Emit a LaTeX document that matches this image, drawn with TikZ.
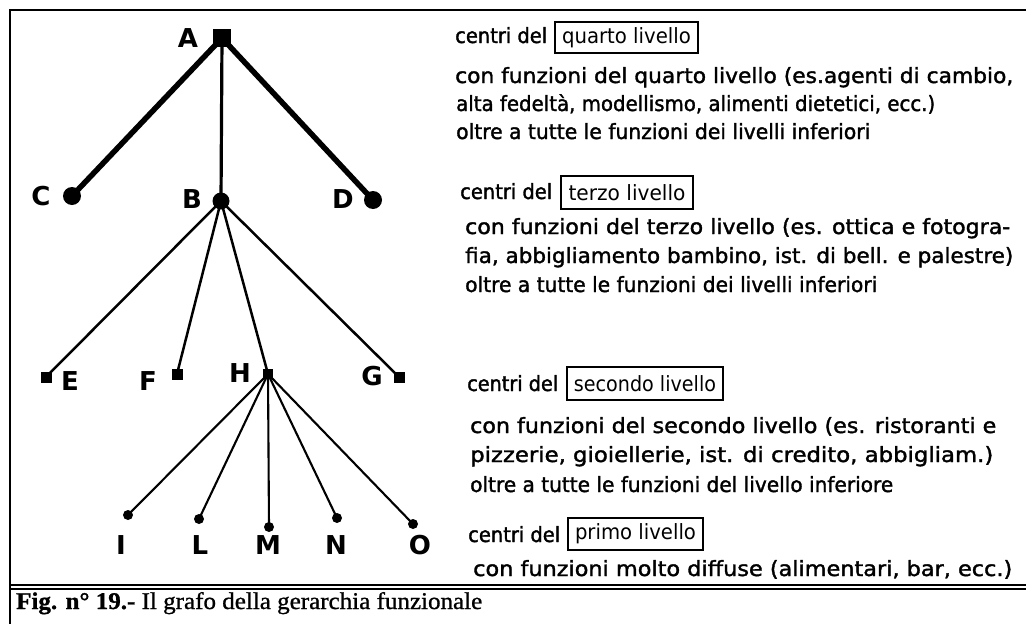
\documentclass[tikz,border=0pt]{standalone}
\usepackage{fontspec}
\usepackage{graphicx}
\setmainfont{DejaVu Sans}
\newfontfamily\bodyfont[FakeBold=1.6]{DejaVu Sans}
\newfontfamily\capserif[FakeBold=1.0]{Liberation Serif}
\newcommand\fitw[2]{\resizebox{#1pt}{\height}{#2}}
\tikzset{
  sq/.style={fill=black, rectangle, inner sep=0pt, minimum size=#1},
  dot/.style={fill=black, circle, inner sep=0pt, minimum size=#1},
  lbl/.style={inner sep=0pt, font=\bfseries\fontsize{26}{26}\selectfont},
  bodytxt/.style={anchor=base west, inner sep=0pt, font=\bodyfont\fontsize{21}{21}\selectfont},
  lvlbox/.style={draw, line width=2pt, inner sep=0pt, font=\fontsize{21}{21}\selectfont},
  thickedge/.style={line width=5.5pt},
  midedge/.style={line width=3.2pt},
  thinedge/.style={line width=2.5pt},
  finedge/.style={line width=2.1pt},
}
\begin{document}
\begin{tikzpicture}[x=1pt,y=-1pt]
\useasboundingbox (0,0) rectangle (1026,624);
% frame
\coordinate (tl) at (10,10);
\coordinate (tr) at (1026,10);
\coordinate (bl) at (10,624);
\draw[line width=2.8pt] (tr) -- (tl) -- (bl);
\coordinate (d1l) at (10,585);
\coordinate (d1r) at (1026,585);
\coordinate (d2l) at (10,589);
\coordinate (d2r) at (1026,589);
\draw[line width=2.4pt] (d1l) -- (d1r);
\draw[line width=1.2pt] (d2l) -- (d2r);
% tree nodes
\node[sq=18pt] (A) at (222,38) {};
\node[dot=18pt] (C) at (72,196) {};
\node[dot=17pt] (B) at (221,201) {};
\node[dot=18pt] (D) at (373,200) {};
\node[sq=11pt] (E) at (46,377) {};
\node[sq=11pt] (F) at (177,374) {};
\node[sq=10pt] (H) at (268,374) {};
\node[sq=11pt] (G) at (399,377) {};
\node[dot=10pt] (I) at (128,515) {};
\node[dot=10pt] (L) at (199,519) {};
\node[dot=10pt] (M) at (269,527) {};
\node[dot=10pt] (N) at (337,518) {};
\node[dot=10pt] (O) at (413,524) {};
% labels
\node[lbl] (lA) at (188,38) {A};
\node[lbl] (lC) at (41,196) {C};
\node[lbl] (lB) at (192,199) {B};
\node[lbl] (lD) at (343,199) {D};
\node[lbl] (lE) at (70,381) {E};
\node[lbl] (lF) at (148,381) {F};
\node[lbl] (lH) at (240,373) {H};
\node[lbl] (lG) at (372,376) {G};
\node[lbl] (lI) at (121,545) {I};
\node[lbl] (lL) at (200,545) {L};
\node[lbl] (lM) at (268,545) {M};
\node[lbl] (lN) at (336,545) {N};
\node[lbl] (lO) at (420,545) {O};
% edges
\draw[thickedge] (A.center) -- (C.center);
\draw[thickedge] (A.center) -- (D.center);
\draw[midedge] (A.center) -- (B.center);
\foreach \t in {E,F,H,G} \draw[thinedge] (B.center) -- (\t.center);
\foreach \t in {I,L,M,N,O} \draw[finedge] (H.center) -- (\t.center);
% level 4
\node[bodytxt] (c4) at (455,43) {\fitw{92}{centri del}};
\node[lvlbox, minimum width=143pt, minimum height=31pt] (b4) at (626.5,37.5) {\fitw{129}{quarto livello}};
\node[bodytxt] (t4a) at (455,83) {\fitw{558}{con funzioni del quarto livello (es.agenti di cambio,}};
\node[bodytxt] (t4b) at (456,111) {\fitw{479}{alta fedeltà, modellismo, alimenti dietetici, ecc.)}};
\node[bodytxt] (t4c) at (456,139) {\fitw{414}{oltre a tutte le funzioni dei livelli inferiori}};
% level 3
\node[bodytxt] (c3) at (460,199) {\fitw{92}{centri del}};
\node[lvlbox, minimum width=132pt, minimum height=33pt] (b3) at (627,192.5) {\fitw{117}{terzo livello}};
\node[bodytxt] (t3a) at (465,234) {\fitw{545}{con funzioni del terzo livello (es. ottica e fotogra-}};
\node[bodytxt] (t3b) at (465,263) {\fitw{548}{fia, abbigliamento bambino, ist. di bell. e palestre)}};
\node[bodytxt] (t3c) at (465,292) {\fitw{412}{oltre a tutte le funzioni dei livelli inferiori}};
% level 2
\node[bodytxt] (c2) at (467,391) {\fitw{91}{centri del}};
\node[lvlbox, minimum width=156pt, minimum height=33pt] (b2) at (645,383.5) {\fitw{142}{secondo livello}};
\node[bodytxt] (t2a) at (470,433) {\fitw{526}{con funzioni del secondo livello (es. ristoranti e}};
\node[bodytxt] (t2b) at (470,462) {\fitw{523}{pizzerie, gioiellerie, ist. di credito, abbigliam.)}};
\node[bodytxt] (t2c) at (470,492) {\fitw{423}{oltre a tutte le funzioni del livello inferiore}};
% level 1
\node[bodytxt] (c1) at (468,542) {\fitw{92}{centri del}};
\node[lvlbox, minimum width=135pt, minimum height=32pt] (b1) at (635.5,534) {\fitw{121}{primo livello}};
\node[bodytxt] (t1a) at (473,576) {\fitw{539}{con funzioni molto diffuse (alimentari, bar, ecc.)}};
% caption
\node[anchor=base west, inner sep=0pt, font=\capserif\fontsize{24}{24}\selectfont] (cap) at (16,609)
  {\fitw{466}{\textbf{Fig. n° 19.-} Il grafo della gerarchia funzionale}};
\end{tikzpicture}
\end{document}
